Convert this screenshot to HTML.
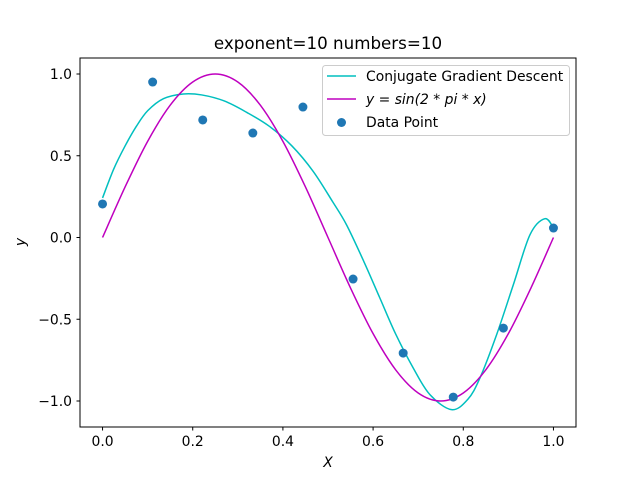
<!DOCTYPE html>
<html><head><meta charset="utf-8"><style>
body{margin:0;background:#fff;}
svg{font-family:"DejaVu Sans","Liberation Sans",sans-serif;}
</style></head><body>
<svg id="chart" width="640" height="480" viewBox="0 0 640 480">
<rect width="640" height="480" fill="#fff"/>
<text x="328" y="49" font-size="16.7" text-anchor="middle">exponent=10 numbers=10</text>
<g id="plot"></g>
<rect x="80" y="58" width="496" height="369" fill="none" stroke="#000" stroke-width="1"/>
<g id="ticks" font-size="13.9"></g>
<text x="328" y="467" font-size="13.9" font-style="italic" text-anchor="middle">X</text>
<text x="0" y="0" font-size="13.9" font-style="italic" text-anchor="middle" transform="translate(25,242) rotate(-90)">y</text>
<g>
<rect x="322.5" y="65.5" width="247" height="70" rx="3" fill="#fff" fill-opacity="0.8" stroke="#ccc"/>
<line x1="327" y1="76" x2="356" y2="76" stroke="#00bfbf" stroke-width="1.5"/>
<text x="366" y="81" font-size="13.9">Conjugate Gradient Descent</text>
<line x1="327" y1="99" x2="356" y2="99" stroke="#bf00bf" stroke-width="1.5"/>
<text x="366" y="104" font-size="13.9" font-style="italic">y = sin(2 * pi * x)</text>
<circle cx="341.5" cy="122.5" r="4.5" fill="#1f77b4"/>
<text x="366" y="127" font-size="13.9">Data Point</text>
</g>
</svg>
<script>
const pointX=[0,0.1111,0.2222,0.3333,0.4444,0.5556,0.6667,0.7778,0.8889,1.0];
const pointY=[0.205,0.951,0.719,0.639,0.798,-0.254,-0.707,-0.976,-0.554,0.058];
const cgdX=[0,0.025,0.05,0.075,0.1,0.135,0.179,0.22,0.27,0.320,0.37,0.42,0.467,0.51,0.541,0.58,0.615,0.65,0.689,0.726,0.774,0.81,0.837,0.874,0.911,0.948,0.981,1.0];
const cgdY=[0.242,0.42,0.56,0.68,0.775,0.849,0.878,0.872,0.835,0.765,0.68,0.56,0.405,0.22,0.078,-0.15,-0.370,-0.59,-0.798,-0.961,-1.053,-0.99,-0.859,-0.594,-0.289,0.017,0.115,0.058];
const sinX=[0,0.05,0.1,0.15,0.2,0.25,0.3,0.35,0.4,0.45,0.5,0.55,0.6,0.65,0.7,0.75,0.8,0.85,0.9,0.95,1.0];
const sinY=[0,0.309,0.588,0.809,0.951,1,0.951,0.809,0.588,0.309,0,-0.309,-0.588,-0.809,-0.951,-1,-0.951,-0.809,-0.588,-0.309,0];
const xTicks=[0,0.2,0.4,0.6,0.8,1.0];
const xTickLabels=["0.0","0.2","0.4","0.6","0.8","1.0"];
const yTicks=[-1,-0.5,0,0.5,1];
const yTickLabels=["\u22121.0","\u22120.5","0.0","0.5","1.0"];
const NS="http://www.w3.org/2000/svg";
function sx(v){return 80+(v+0.05)/1.1*496;}
function sy(v){return 237.5-v*163.5;}
function pathFrom(xs,ys){
  const p=xs.map((x,i)=>[sx(x),sy(ys[i])]);
  let d="M"+p[0][0]+","+p[0][1];
  for(let i=0;i<p.length-1;i++){
    const p0=p[Math.max(0,i-1)],p1=p[i],p2=p[i+1],p3=p[Math.min(p.length-1,i+2)];
    const c1=[p1[0]+(p2[0]-p0[0])/6,p1[1]+(p2[1]-p0[1])/6];
    const c2=[p2[0]-(p3[0]-p1[0])/6,p2[1]-(p3[1]-p1[1])/6];
    d+=" C"+c1[0]+","+c1[1]+" "+c2[0]+","+c2[1]+" "+p2[0]+","+p2[1];
  }
  return d;
}
const plot=document.getElementById("plot");
const cg=document.createElementNS(NS,"path");
cg.setAttribute("d",pathFrom(cgdX,cgdY));
cg.setAttribute("fill","none");cg.setAttribute("stroke","#00bfbf");cg.setAttribute("stroke-width","1.5");


plot.appendChild(cg);
const sn=document.createElementNS(NS,"path");
sn.setAttribute("d",pathFrom(sinX,sinY));
sn.setAttribute("fill","none");sn.setAttribute("stroke","#bf00bf");sn.setAttribute("stroke-width","1.5");


plot.appendChild(sn);
pointX.forEach((x,i)=>{
  const c=document.createElementNS(NS,"circle");
  c.setAttribute("cx",sx(x));c.setAttribute("cy",sy(pointY[i]));c.setAttribute("r","4.5");c.setAttribute("fill","#1f77b4");
  
  
  plot.appendChild(c);
});
const tg=document.getElementById("ticks");
xTicks.forEach((v,i)=>{
  const l=document.createElementNS(NS,"line");
  l.setAttribute("x1",sx(v));l.setAttribute("x2",sx(v));l.setAttribute("y1",427);l.setAttribute("y2",430.5);l.setAttribute("stroke","#000");
  
  
  tg.appendChild(l);
  const t=document.createElementNS(NS,"text");
  t.setAttribute("x",sx(v));t.setAttribute("y",446);t.setAttribute("text-anchor","middle");t.textContent=xTickLabels[i];
  
  
  tg.appendChild(t);
});
yTicks.forEach((v,i)=>{
  const l=document.createElementNS(NS,"line");
  l.setAttribute("x1",76.5);l.setAttribute("x2",80);l.setAttribute("y1",sy(v));l.setAttribute("y2",sy(v));l.setAttribute("stroke","#000");
  
  
  tg.appendChild(l);
  const t=document.createElementNS(NS,"text");
  t.setAttribute("x",72);t.setAttribute("y",sy(v)+5);t.setAttribute("text-anchor","end");t.textContent=yTickLabels[i];
  
  
  tg.appendChild(t);
});
</script>
</body></html>
